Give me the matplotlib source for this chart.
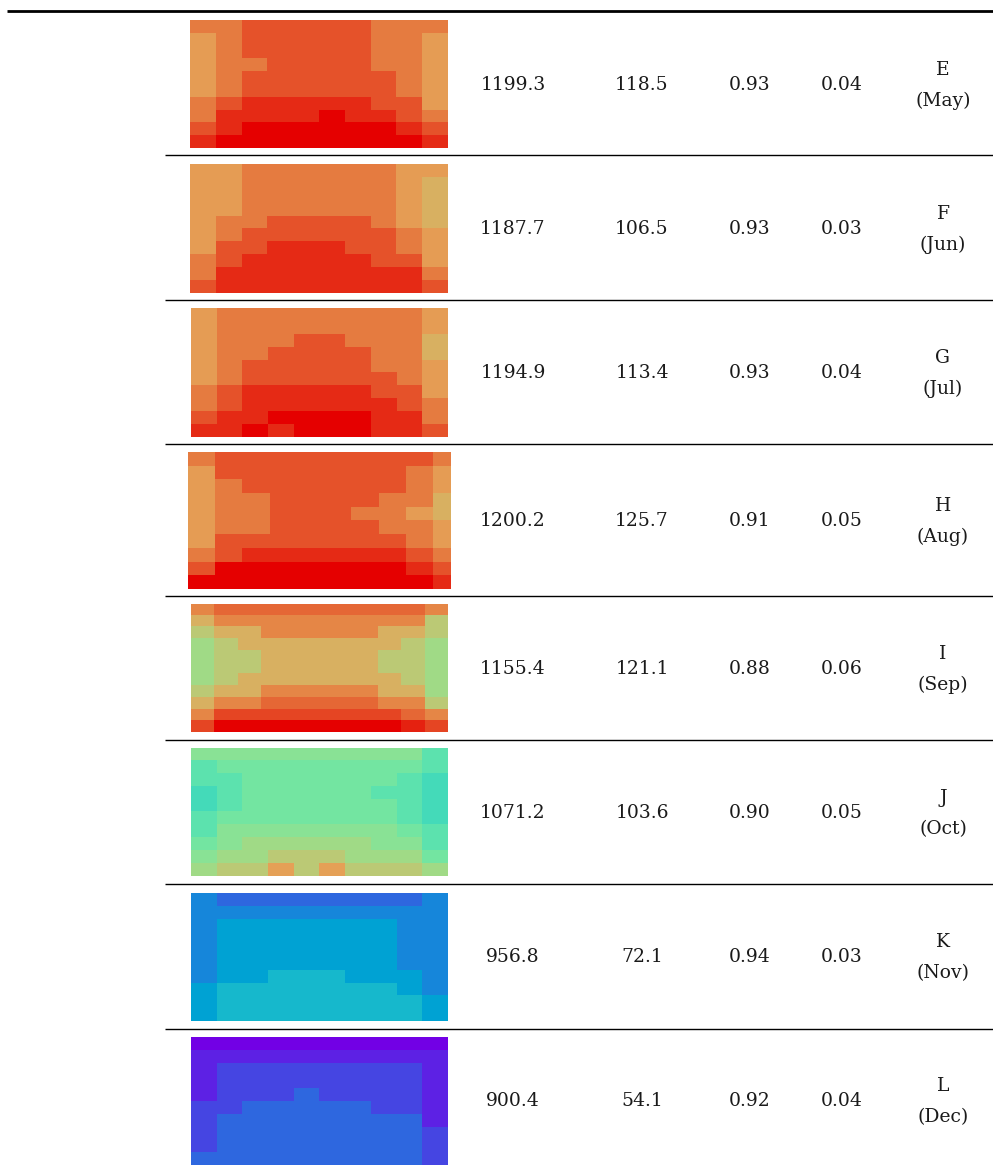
import numpy as np
import matplotlib
matplotlib.use("Agg")
import matplotlib.pyplot as plt
from matplotlib.colors import ListedColormap

# table values
letters = ["E", "F", "G", "H", "I", "J", "K", "L"]
months = ["May", "Jun", "Jul", "Aug", "Sep", "Oct", "Nov", "Dec"]
col1 = [1199.3, 1187.7, 1194.9, 1200.2, 1155.4, 1071.2, 956.8, 900.4]
col2 = [118.5, 106.5, 113.4, 125.7, 121.1, 103.6, 72.1, 54.1]
col3 = [0.93, 0.93, 0.93, 0.91, 0.88, 0.90, 0.94, 0.92]
col4 = [0.04, 0.03, 0.04, 0.05, 0.06, 0.05, 0.03, 0.04]

# heatmap cells (0 = violet ... 1 = red)
grid_may = [
    [0.82, 0.82, 0.88, 0.88, 0.88, 0.88, 0.88, 0.82, 0.82, 0.82],
    [0.76, 0.82, 0.88, 0.88, 0.88, 0.88, 0.88, 0.82, 0.82, 0.76],
    [0.76, 0.82, 0.88, 0.88, 0.88, 0.88, 0.88, 0.82, 0.82, 0.76],
    [0.76, 0.82, 0.82, 0.88, 0.88, 0.88, 0.88, 0.82, 0.82, 0.76],
    [0.76, 0.82, 0.88, 0.88, 0.88, 0.88, 0.88, 0.88, 0.82, 0.76],
    [0.76, 0.82, 0.88, 0.88, 0.88, 0.88, 0.88, 0.88, 0.82, 0.76],
    [0.82, 0.88, 0.94, 0.94, 0.94, 0.94, 0.94, 0.88, 0.88, 0.76],
    [0.82, 0.94, 0.94, 0.94, 0.94, 1.00, 0.94, 0.94, 0.88, 0.82],
    [0.88, 0.94, 1.00, 1.00, 1.00, 1.00, 1.00, 1.00, 0.94, 0.88],
    [0.94, 1.00, 1.00, 1.00, 1.00, 1.00, 1.00, 1.00, 1.00, 0.94],
]
grid_jun = [
    [0.76, 0.76, 0.82, 0.82, 0.82, 0.82, 0.82, 0.82, 0.76, 0.76],
    [0.76, 0.76, 0.82, 0.82, 0.82, 0.82, 0.82, 0.82, 0.76, 0.72],
    [0.76, 0.76, 0.82, 0.82, 0.82, 0.82, 0.82, 0.82, 0.76, 0.72],
    [0.76, 0.76, 0.82, 0.82, 0.82, 0.82, 0.82, 0.82, 0.76, 0.72],
    [0.76, 0.82, 0.82, 0.88, 0.88, 0.88, 0.88, 0.82, 0.76, 0.72],
    [0.76, 0.82, 0.88, 0.88, 0.88, 0.88, 0.88, 0.88, 0.82, 0.76],
    [0.76, 0.88, 0.88, 0.94, 0.94, 0.94, 0.88, 0.88, 0.82, 0.76],
    [0.82, 0.88, 0.94, 0.94, 0.94, 0.94, 0.94, 0.88, 0.88, 0.76],
    [0.82, 0.94, 0.94, 0.94, 0.94, 0.94, 0.94, 0.94, 0.94, 0.82],
    [0.88, 0.94, 0.94, 0.94, 0.94, 0.94, 0.94, 0.94, 0.94, 0.88],
]
grid_jul = [
    [0.76, 0.82, 0.82, 0.82, 0.82, 0.82, 0.82, 0.82, 0.82, 0.76],
    [0.76, 0.82, 0.82, 0.82, 0.82, 0.82, 0.82, 0.82, 0.82, 0.76],
    [0.76, 0.82, 0.82, 0.82, 0.88, 0.88, 0.82, 0.82, 0.82, 0.72],
    [0.76, 0.82, 0.82, 0.88, 0.88, 0.88, 0.88, 0.82, 0.82, 0.72],
    [0.76, 0.82, 0.88, 0.88, 0.88, 0.88, 0.88, 0.82, 0.82, 0.76],
    [0.76, 0.82, 0.88, 0.88, 0.88, 0.88, 0.88, 0.88, 0.82, 0.76],
    [0.82, 0.88, 0.94, 0.94, 0.94, 0.94, 0.94, 0.88, 0.88, 0.76],
    [0.82, 0.88, 0.94, 0.94, 0.94, 0.94, 0.94, 0.94, 0.88, 0.82],
    [0.88, 0.94, 0.94, 1.00, 1.00, 1.00, 1.00, 0.94, 0.94, 0.82],
    [0.94, 0.94, 1.00, 0.94, 1.00, 1.00, 1.00, 0.94, 0.94, 0.88],
]
grid_aug = [
    [0.82, 0.88, 0.88, 0.88, 0.88, 0.88, 0.88, 0.88, 0.88, 0.82],
    [0.76, 0.88, 0.88, 0.88, 0.88, 0.88, 0.88, 0.88, 0.82, 0.76],
    [0.76, 0.82, 0.88, 0.88, 0.88, 0.88, 0.88, 0.88, 0.82, 0.76],
    [0.76, 0.82, 0.82, 0.88, 0.88, 0.88, 0.88, 0.82, 0.82, 0.72],
    [0.76, 0.82, 0.82, 0.88, 0.88, 0.88, 0.82, 0.82, 0.76, 0.72],
    [0.76, 0.82, 0.82, 0.88, 0.88, 0.88, 0.88, 0.82, 0.82, 0.76],
    [0.76, 0.88, 0.88, 0.88, 0.88, 0.88, 0.88, 0.88, 0.82, 0.76],
    [0.82, 0.88, 0.94, 0.94, 0.94, 0.94, 0.94, 0.94, 0.88, 0.82],
    [0.88, 1.00, 1.00, 1.00, 1.00, 1.00, 1.00, 1.00, 0.94, 0.88],
    [1.00, 1.00, 1.00, 1.00, 1.00, 1.00, 1.00, 1.00, 1.00, 0.94],
]
grid_sep = [
    [0.80, 0.85, 0.85, 0.85, 0.85, 0.85, 0.85, 0.85, 0.85, 0.85, 0.80],
    [0.72, 0.80, 0.80, 0.80, 0.80, 0.80, 0.80, 0.80, 0.80, 0.80, 0.66],
    [0.66, 0.72, 0.72, 0.80, 0.80, 0.80, 0.80, 0.80, 0.72, 0.72, 0.66],
    [0.60, 0.66, 0.72, 0.72, 0.72, 0.72, 0.72, 0.72, 0.72, 0.66, 0.60],
    [0.60, 0.66, 0.66, 0.72, 0.72, 0.72, 0.72, 0.72, 0.66, 0.66, 0.60],
    [0.60, 0.66, 0.66, 0.72, 0.72, 0.72, 0.72, 0.72, 0.66, 0.66, 0.60],
    [0.60, 0.66, 0.72, 0.72, 0.72, 0.72, 0.72, 0.72, 0.72, 0.66, 0.60],
    [0.66, 0.72, 0.72, 0.80, 0.80, 0.80, 0.80, 0.80, 0.72, 0.72, 0.60],
    [0.72, 0.80, 0.80, 0.85, 0.85, 0.85, 0.85, 0.85, 0.80, 0.80, 0.66],
    [0.80, 0.90, 0.90, 0.90, 0.90, 0.90, 0.90, 0.90, 0.90, 0.85, 0.80],
    [0.90, 1.00, 1.00, 1.00, 1.00, 1.00, 1.00, 1.00, 1.00, 0.95, 0.90],
]
grid_oct = [
    [0.55, 0.55, 0.55, 0.55, 0.55, 0.55, 0.55, 0.55, 0.55, 0.45],
    [0.45, 0.50, 0.50, 0.50, 0.50, 0.50, 0.50, 0.50, 0.50, 0.45],
    [0.45, 0.45, 0.50, 0.50, 0.50, 0.50, 0.50, 0.50, 0.45, 0.40],
    [0.40, 0.45, 0.50, 0.50, 0.50, 0.50, 0.50, 0.45, 0.45, 0.40],
    [0.40, 0.45, 0.50, 0.50, 0.50, 0.50, 0.50, 0.50, 0.45, 0.40],
    [0.45, 0.50, 0.50, 0.50, 0.50, 0.50, 0.50, 0.50, 0.45, 0.40],
    [0.45, 0.55, 0.55, 0.55, 0.55, 0.55, 0.55, 0.55, 0.50, 0.45],
    [0.50, 0.55, 0.60, 0.60, 0.60, 0.60, 0.60, 0.55, 0.55, 0.45],
    [0.55, 0.60, 0.60, 0.66, 0.66, 0.66, 0.60, 0.60, 0.60, 0.50],
    [0.60, 0.66, 0.66, 0.75, 0.66, 0.75, 0.66, 0.66, 0.66, 0.60],
]
grid_nov = [
    [0.20, 0.15, 0.15, 0.15, 0.15, 0.15, 0.15, 0.15, 0.15, 0.20],
    [0.20, 0.20, 0.20, 0.20, 0.20, 0.20, 0.20, 0.20, 0.20, 0.20],
    [0.20, 0.25, 0.25, 0.25, 0.25, 0.25, 0.25, 0.25, 0.20, 0.20],
    [0.20, 0.25, 0.25, 0.25, 0.25, 0.25, 0.25, 0.25, 0.20, 0.20],
    [0.20, 0.25, 0.25, 0.25, 0.25, 0.25, 0.25, 0.25, 0.20, 0.20],
    [0.20, 0.25, 0.25, 0.25, 0.25, 0.25, 0.25, 0.25, 0.20, 0.20],
    [0.20, 0.25, 0.25, 0.30, 0.30, 0.30, 0.25, 0.25, 0.25, 0.20],
    [0.25, 0.30, 0.30, 0.30, 0.30, 0.30, 0.30, 0.30, 0.25, 0.20],
    [0.25, 0.30, 0.30, 0.30, 0.30, 0.30, 0.30, 0.30, 0.30, 0.25],
    [0.25, 0.30, 0.30, 0.30, 0.30, 0.30, 0.30, 0.30, 0.30, 0.25],
]
grid_dec = [
    [0.00, 0.00, 0.00, 0.00, 0.00, 0.00, 0.00, 0.00, 0.00, 0.00],
    [0.05, 0.05, 0.05, 0.05, 0.05, 0.05, 0.05, 0.05, 0.05, 0.05],
    [0.05, 0.10, 0.10, 0.10, 0.10, 0.10, 0.10, 0.10, 0.10, 0.05],
    [0.05, 0.10, 0.10, 0.10, 0.10, 0.10, 0.10, 0.10, 0.10, 0.05],
    [0.05, 0.10, 0.10, 0.10, 0.15, 0.10, 0.10, 0.10, 0.10, 0.05],
    [0.10, 0.10, 0.15, 0.15, 0.15, 0.15, 0.15, 0.10, 0.10, 0.05],
    [0.10, 0.15, 0.15, 0.15, 0.15, 0.15, 0.15, 0.15, 0.15, 0.05],
    [0.10, 0.15, 0.15, 0.15, 0.15, 0.15, 0.15, 0.15, 0.15, 0.10],
    [0.10, 0.15, 0.15, 0.15, 0.15, 0.15, 0.15, 0.15, 0.15, 0.10],
    [0.15, 0.15, 0.15, 0.15, 0.15, 0.15, 0.15, 0.15, 0.15, 0.10],
]
grids = [grid_may, grid_jun, grid_jul, grid_aug, grid_sep, grid_oct, grid_nov, grid_dec]

# rainbow, a little darker like the scanned figure
rgba = plt.cm.rainbow(np.linspace(0, 1, 256))
rgba[:, :3] *= 0.9
cmap = ListedColormap(rgba)

W, H = 993, 1166
fig = plt.figure(figsize=(W / 100, H / 100), dpi=100)
ax = fig.add_axes([0, 0, 1, 1])
ax.set_xlim(0, W)
ax.set_ylim(H, 0)
ax.axis("off")

# image boxes in pixels: left, top, width, height
boxes = [(190, 20, 258, 128), (190, 164, 258, 129), (191, 308, 257, 129),
         (188, 452, 263, 137), (191, 604, 257, 128), (191, 748, 257, 128),
         (191, 893, 257, 128), (191, 1037, 257, 128)]
text_y = [85, 229, 373, 521, 669, 813, 957, 1101]
sep_y = [155, 300, 444, 596, 740, 884, 1029]

ax.hlines(11, 7, W, color="black", lw=2.0)
ax.hlines(sep_y, 165, W, color="black", lw=1.0)

font = dict(family="DejaVu Serif", fontsize=13.5, color="#1a1a1a",
            ha="center", va="center")

for i, g in enumerate(grids):
    left, top, w, h = boxes[i]
    iax = fig.add_axes([left / W, 1 - (top + h) / H, w / W, h / H])
    arr = np.array(g)
    ncol = arr.shape[1]
    iax.imshow(arr, cmap=cmap, vmin=0, vmax=1, aspect="auto",
               interpolation="nearest", extent=(0, ncol, arr.shape[0], 0))
    if letters[i] == "H":
        iax.set_xlim(0, ncol - 0.35)  # right column is cut in the source
    iax.axis("off")

    y = text_y[i]
    ax.text(513, y, f"{col1[i]:.1f}", **font)
    ax.text(642, y, f"{col2[i]:.1f}", **font)
    ax.text(750, y, f"{col3[i]:.2f}", **font)
    ax.text(842, y, f"{col4[i]:.2f}", **font)
    ax.text(943, y - 15, letters[i], **font)
    ax.text(943, y + 16, f"({months[i]})", **font)

fig.savefig("out.png", dpi=100)
